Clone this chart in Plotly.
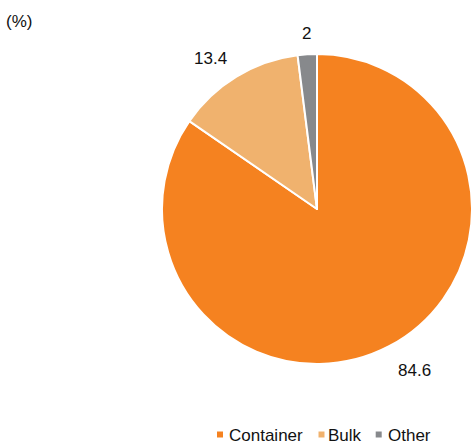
import math
import plotly.graph_objects as go

# Share of throughput by cargo type (%)
categories = ["Container", "Bulk", "Other"]
shares = [84.6, 13.4, 2]
share_labels = ["84.6", "13.4", "2"]

colors = ["#F58220", "#F0B26E", "#87898C"]
FONT = "Liberation Sans, Arial, sans-serif"
FS = 17

W, H = 472, 448
cx, cy, R = 317, 209, 155   # pie centre / radius in px, measured from the top-left corner


def px(x):
    return x / W


def py(y):
    return 1 - y / H


fig = go.Figure(
    go.Pie(
        labels=categories,
        values=shares,
        sort=False,
        direction="clockwise",
        rotation=0,
        marker=dict(colors=colors, line=dict(color="white", width=2)),
        textinfo="none",
        hoverinfo="label+value",
        showlegend=False,
        domain=dict(x=[px(cx - R), px(cx + R)], y=[py(cy + R), py(cy - R)]),
    )
)

annotations = []
shapes = []

# value labels placed just outside each slice, along its mid angle
total = sum(shares)
start = 0.0
gap = 14
for val, txt in zip(shares, share_labels):
    mid = (start + val / 2) / total * 2 * math.pi
    start += val
    sx, sy = math.sin(mid), math.cos(mid)
    x = cx + (R + gap) * sx
    y = cy - (R + gap) * sy
    xa = "left" if sx > 0.3 else ("right" if sx < -0.3 else "center")
    ya = "bottom" if sy > 0.3 else ("top" if sy < -0.3 else "middle")
    shift = -5 if ya == "bottom" else 0
    annotations.append(dict(
        x=px(x), y=py(y), xref="paper", yref="paper", text=txt, showarrow=False,
        xanchor=xa, yanchor=ya, yshift=shift,
        font=dict(family=FONT, size=FS, color="#111111"),
    ))

# unit note
annotations.append(dict(
    x=px(4), y=py(10), xref="paper", yref="paper", text="(%)", showarrow=False,
    xanchor="left", yanchor="top", font=dict(family=FONT, size=FS, color="#111111"),
))

# legend row along the bottom
legend_marker_x = [220, 321.5, 378.7]
legend_text_x = [227, 326, 386]
legend_y = 435
for name, col, mx, tx in zip(categories, colors, legend_marker_x, legend_text_x):
    shapes.append(dict(
        type="rect", xref="paper", yref="paper",
        x0=px(mx - 3), x1=px(mx + 3), y0=py(legend_y + 2.5), y1=py(legend_y - 3.5),
        fillcolor=col, line=dict(width=0),
    ))
    annotations.append(dict(
        x=px(tx), y=py(legend_y), xref="paper", yref="paper", text=name, showarrow=False,
        xanchor="left", yanchor="middle", font=dict(family=FONT, size=FS, color="#111111"),
    ))

fig.update_layout(
    width=W,
    height=H,
    margin=dict(l=0, r=0, t=0, b=0),
    paper_bgcolor="white",
    plot_bgcolor="white",
    annotations=annotations,
    shapes=shapes,
    showlegend=False,
)

fig.write_html("out.html")
